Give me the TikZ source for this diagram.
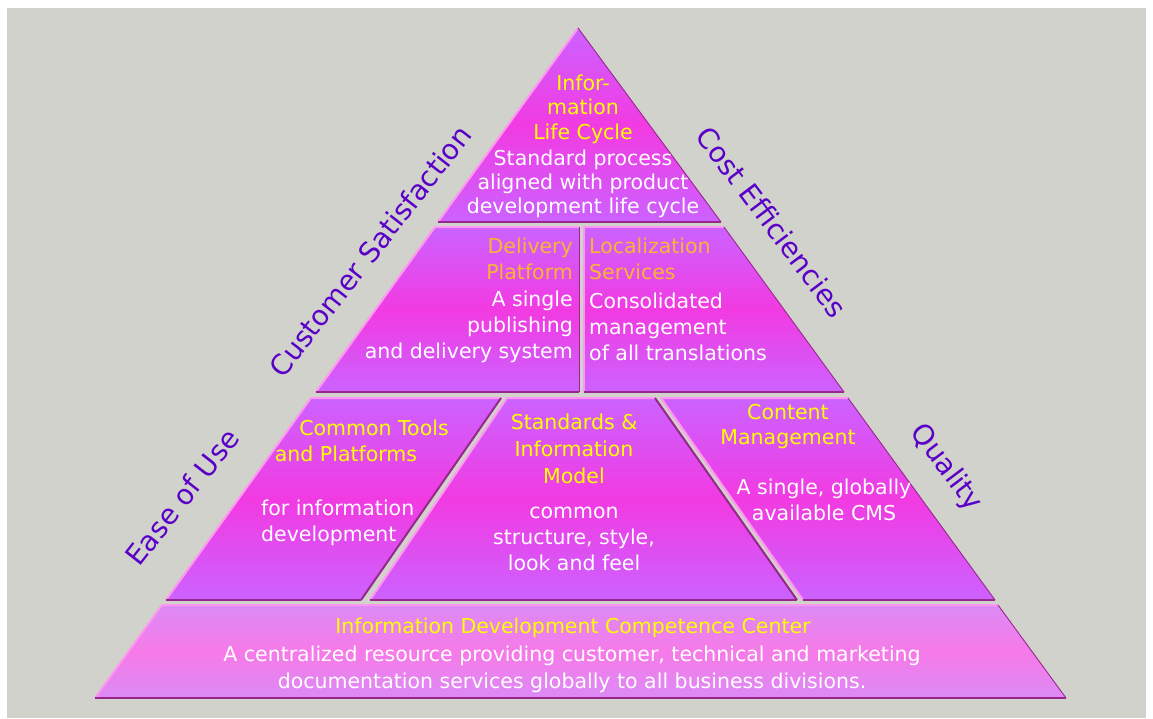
\documentclass[tikz,border=0pt]{standalone}
\usepackage{fontspec}
\setmainfont{DejaVu Sans}

\definecolor{bggrey}{RGB}{208,210,203}
\definecolor{vio}{RGB}{204,98,255}
\definecolor{mag}{RGB}{242,58,226}
\definecolor{paleviol}{RGB}{220,138,246}
\definecolor{palemag}{RGB}{246,122,232}
\definecolor{hilite}{RGB}{255,150,240}
\definecolor{shadowc}{RGB}{150,40,140}
\definecolor{headyellow}{RGB}{255,255,0}
\definecolor{headorange}{RGB}{246,182,50}
\definecolor{edgepurple}{RGB}{90,0,200}

\begin{document}
\begin{tikzpicture}[x=1pt,y=-1pt,
  block/.style={top color=vio,bottom color=vio,middle color=mag},
  baseblock/.style={top color=paleviol,bottom color=paleviol,middle color=palemag},
  litedge/.style={draw=hilite,line width=2pt,line join=round},
  darkedge/.style={draw=shadowc,line width=2.4pt},
  sideedge/.style={draw=shadowc,line width=0.9pt},
  headtxt/.style={text=headyellow,font=\fontsize{20.5}{25}\selectfont,inner sep=0pt},
  orangetxt/.style={text=headorange,font=\fontsize{20.5}{26}\selectfont,inner sep=0pt},
  bodytxt/.style={text=white,font=\fontsize{20.5}{26}\selectfont,inner sep=0pt},
  sidetxt/.style={text=edgepurple,font=\fontsize{28}{32}\selectfont,inner sep=0pt}]

\useasboundingbox (0,0) rectangle (1153,718);
\fill[white] (0,0) rectangle (1153,718);
\fill[bggrey] (7,8) rectangle (1146,718);

% top triangle
\shade[block] (578,28)--(721,222)--(438,222)--cycle;
\draw[litedge] (438,222)--(578,28);
\draw[sideedge] (578,28)--(721,222);
\draw[darkedge] (721,222)--(438,222);

% second tier
\shade[block] (435,227)--(579,227)--(579,392)--(316,392)--cycle;
\draw[litedge] (316,392)--(435,227)--(579,227);
\draw[sideedge] (579,227)--(579,392);
\draw[darkedge] (579,392)--(316,392);
\shade[block] (584,227)--(724,227)--(844,392)--(584,392)--cycle;
\draw[litedge] (584,392)--(584,227)--(724,227);
\draw[sideedge] (724,227)--(844,392);
\draw[darkedge] (844,392)--(584,392);

% third tier
\shade[block] (311,398)--(501,398)--(361,600)--(166,600)--cycle;
\draw[litedge] (166,600)--(311,398)--(501,398);
\draw[sideedge,line width=2pt] (501,398)--(361,600);
\draw[darkedge] (361,600)--(166,600);
\shade[block] (507,398)--(655,398)--(797,600)--(370,600)--cycle;
\draw[litedge] (370,600)--(507,398)--(655,398);
\draw[sideedge,line width=2pt] (655,398)--(797,600);
\draw[darkedge] (797,600)--(370,600);
\shade[block] (661,398)--(848,398)--(995,600)--(803,600)--cycle;
\draw[litedge] (803,600)--(661,398)--(848,398);
\draw[sideedge] (848,398)--(995,600);
\draw[darkedge] (995,600)--(803,600);

% base band
\shade[baseblock] (162,605)--(998,605)--(1066,698)--(95,698)--cycle;
\draw[litedge] (95,698)--(162,605)--(998,605);
\draw[sideedge] (998,605)--(1066,698);
\draw[darkedge] (1066,698)--(95,698);

% texts inside
\node[headtxt,align=center,font=\fontsize{20.5}{24.5}\selectfont] (lifehead) at (583,109) {Infor-\\mation\\Life Cycle};
\node[bodytxt,align=center,font=\fontsize{20.5}{24}\selectfont] (lifebody) at (583,184) {Standard process\\aligned with product\\development life cycle};

\node[orangetxt,align=right,anchor=east] (delivhead) at (573,259) {Delivery\\Platform};
\node[bodytxt,align=right,anchor=east] (delivbody) at (573,327) {A single\\publishing\\and delivery system};

\node[orangetxt,align=left,anchor=west] (lochead) at (589,259) {Localization\\Services};
\node[bodytxt,align=left,anchor=west] (locbody) at (589,327) {Consolidated\\management\\of all translations};

\node[headtxt] (toolsa) at (374,428) {Common Tools};
\node[headtxt] (toolsb) at (346,454) {and Platforms};
\node[bodytxt,align=left,anchor=west] (toolsbody) at (261,523) {for information\\development};

\node[headtxt,align=center,font=\fontsize{20.5}{27}\selectfont] (stdhead) at (574,449) {Standards \&\\Information\\Model};
\node[bodytxt,align=center] (stdbody) at (574,539) {common\\structure, style,\\look and feel};

\node[headtxt,align=center] (cmshead) at (788,427) {Content\\Management};
\node[bodytxt,align=center] (cmsbody) at (824,500) {A single, globally\\available CMS};

\node[headtxt] (idcchead) at (573,628) {Information Development Competence Center};
\node[bodytxt,align=center,font=\fontsize{20.5}{27}\selectfont] (idccbody) at (572,669) {A centralized resource providing customer, technical and marketing\\documentation services globally to all business divisions.};

% side labels
\node[sidetxt,rotate=52] (custsat) at (370,251) {Customer Satisfaction};
\node[sidetxt,rotate=52] (easeuse) at (182,497) {Ease of Use};
\node[sidetxt,rotate=-53] (costeff) at (772,222) {Cost Efficiencies};
\node[sidetxt,rotate=-53] (quality) at (946,468) {Quality};
\end{tikzpicture}
\end{document}
